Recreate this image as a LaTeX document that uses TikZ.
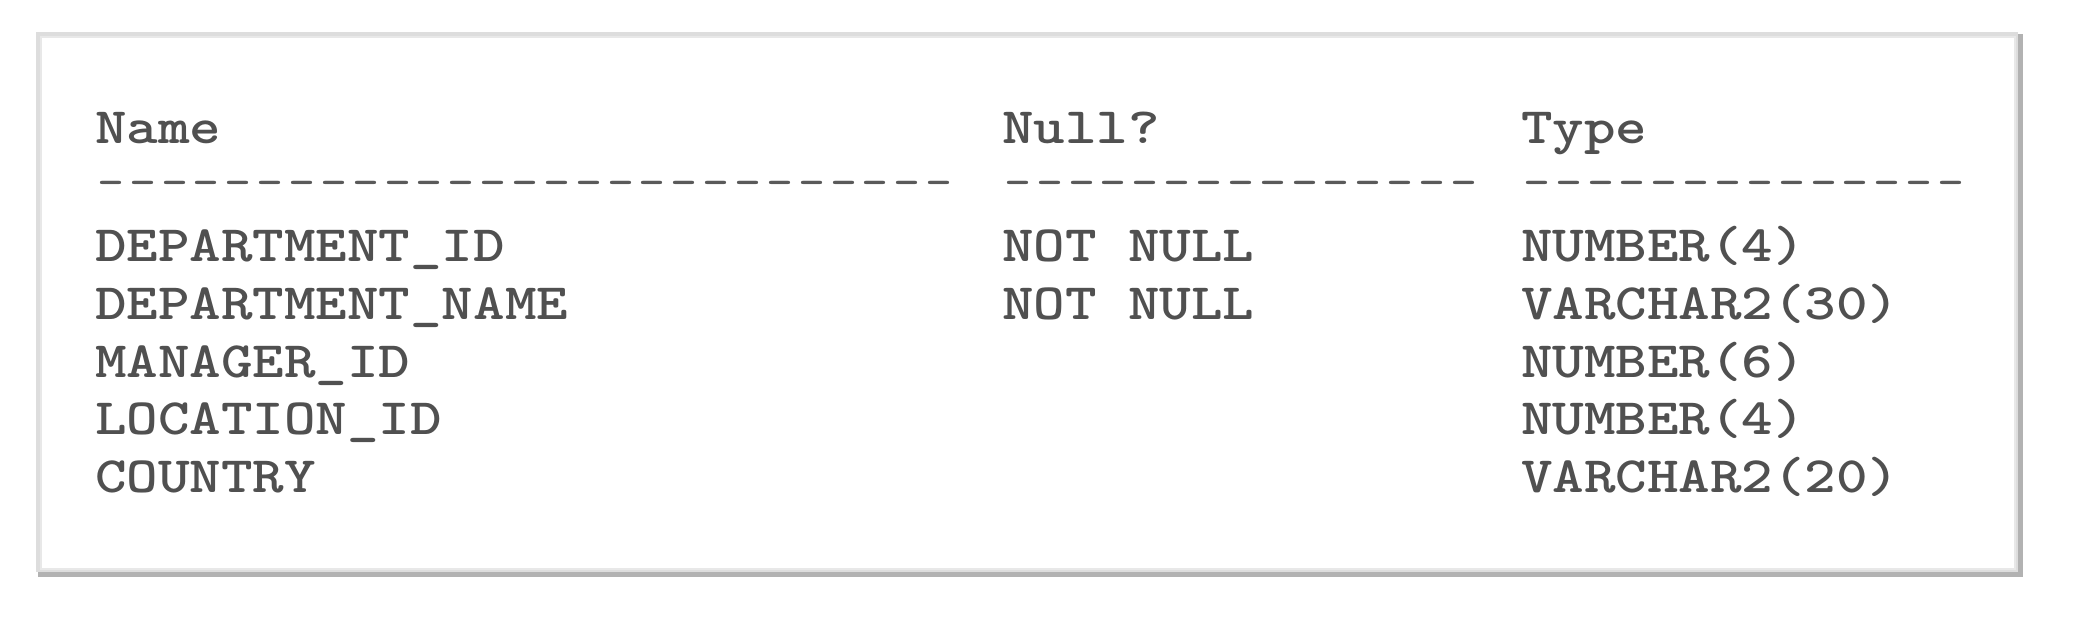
\documentclass[tikz,border=0pt]{standalone}
\usepackage{graphicx}
\definecolor{txt}{HTML}{505050}
\definecolor{dsh}{HTML}{5A5A5A}
\definecolor{edgeL}{HTML}{DDDDDD}
\definecolor{edgeM}{HTML}{E8E8E8}
\definecolor{edgeD}{HTML}{B2B2B2}
\newcommand\mcell[1]{\scalebox{1.178}[1]{#1}}
\newcommand\dashrun[1]{\foreach\i in {1,...,#1}{\kern1.2pt\scalebox{1.03}[1]{-}\kern1.2pt}}
\begin{document}
\begin{tikzpicture}[x=0.5pt,y=-0.5pt,
  cell/.style={anchor=base west, inner sep=0pt, outer sep=0pt, text=txt,
    font=\ttfamily\bfseries\fontsize{25.5}{25.5}\selectfont},
  rule/.style={anchor=base west, inner sep=0pt, outer sep=0pt, text=dsh,
    font=\ttfamily\fontsize{25.5}{25.5}\selectfont}]
  % canvas
  \fill[white] (0,0) rectangle (2082,618);
  \useasboundingbox (0,0) rectangle (2082,618);
  % framed panel with soft shadow
  \fill[edgeD] (38,34) rectangle (2023,577);
  \fill[edgeL] (36,32) rectangle (2018,572);
  \fill[edgeM] (40,36) rectangle (2016,570);
  \fill[white] (42,38) rectangle (2014,568);
  % column x positions
  \def\ca{95}\def\cb{1002}\def\cc{1521}
  % header
  \node[cell] (hname) at (\ca,143) {\mcell{Name}};
  \node[cell] (hnull) at (\cb,143) {\mcell{Null?}};
  \node[cell] (htype) at (\cc,143) {\mcell{Type}};
  % rules
  \node[rule] (rname) at (\ca,198) {\dashrun{27}};
  \node[rule] (rnull) at (\cb,198) {\dashrun{15}};
  \node[rule] (rtype) at (\cc,198) {\dashrun{14}};
  % rows
  \node[cell] (n1) at (\ca,261) {\mcell{DEPARTMENT\_ID}};
  \node[cell] (u1) at (\cb,261) {\mcell{NOT NULL}};
  \node[cell] (t1) at (\cc,261) {\mcell{NUMBER(4)}};
  \node[cell] (n2) at (\ca,319) {\mcell{DEPARTMENT\_NAME}};
  \node[cell] (u2) at (\cb,319) {\mcell{NOT NULL}};
  \node[cell] (t2) at (\cc,319) {\mcell{VARCHAR2(30)}};
  \node[cell] (n3) at (\ca,377) {\mcell{MANAGER\_ID}};
  \node[cell] (t3) at (\cc,377) {\mcell{NUMBER(6)}};
  \node[cell] (n4) at (\ca,434) {\mcell{LOCATION\_ID}};
  \node[cell] (t4) at (\cc,434) {\mcell{NUMBER(4)}};
  \node[cell] (n5) at (\ca,492) {\mcell{COUNTRY}};
  \node[cell] (t5) at (\cc,492) {\mcell{VARCHAR2(20)}};
\end{tikzpicture}
\end{document}
